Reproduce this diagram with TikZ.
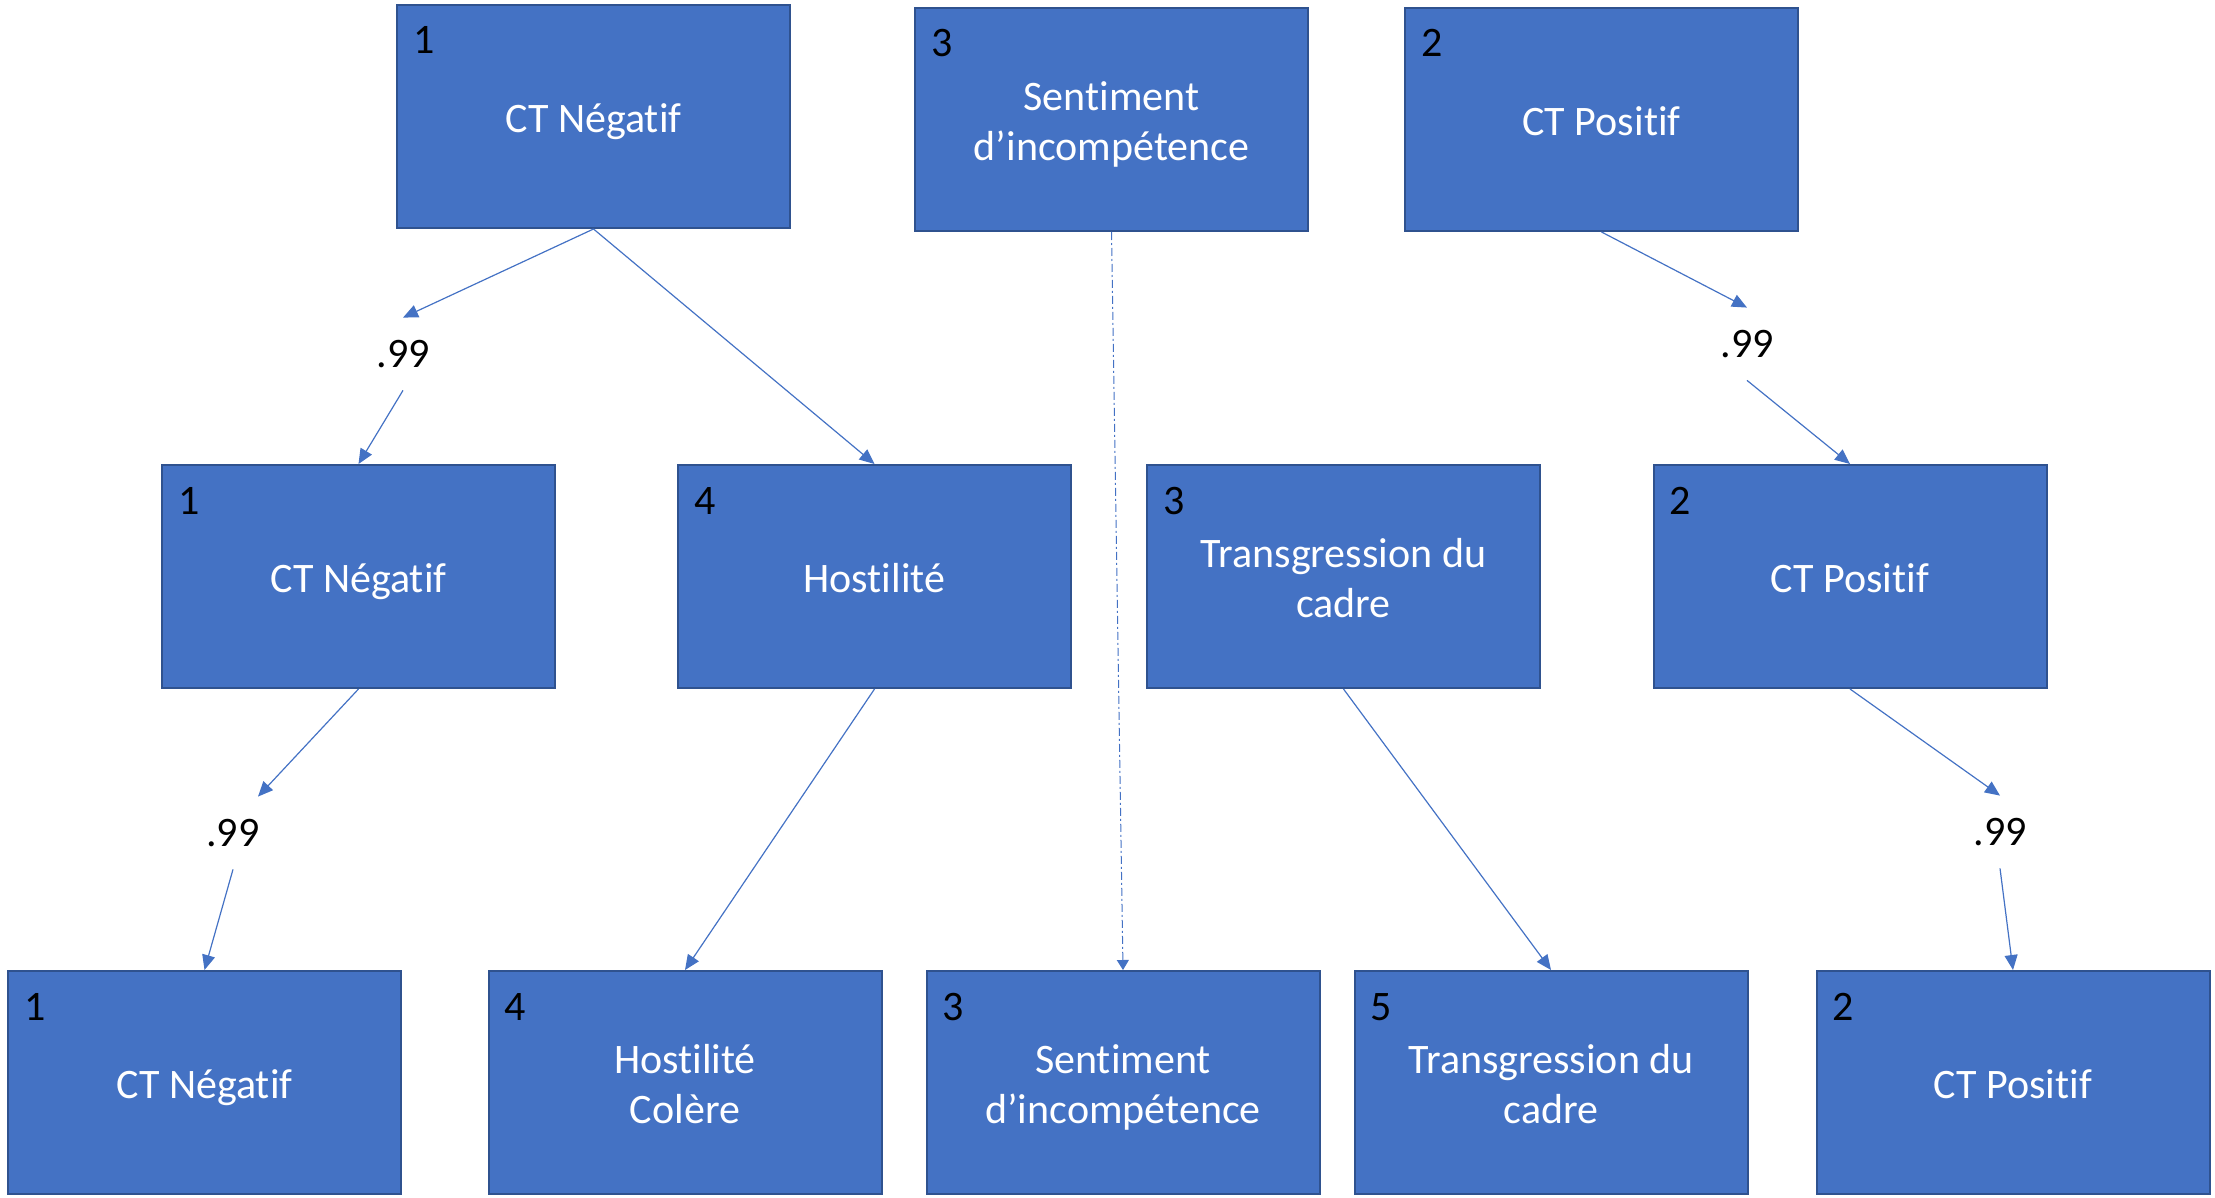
\documentclass[tikz,border=0pt]{standalone}
\usepackage{fontspec}
\setmainfont{Carlito}[Ligatures=NoCommon]
\usetikzlibrary{arrows.meta,calc}
\definecolor{boxfill}{HTML}{4472C4}
\definecolor{boxline}{HTML}{2F528F}
\newcommand{\topstrutx}{\rule{0pt}{23pt}}
\newcommand{\botstrutx}{\rule[-6.7pt]{0pt}{6.7pt}}
\begin{document}
\begin{tikzpicture}[x=0.5pt,y=-0.5pt,
  box/.style={draw=boxline,line width=1pt,fill=boxfill,minimum width=196.5pt,minimum height=111.5pt,inner sep=0pt,text=white,align=center,font=\fontsize{21}{25}\selectfont},
  num/.style={anchor=base west,inner sep=0pt,font=\fontsize{21}{25}\selectfont,text=black},
  lab/.style={inner sep=0pt,minimum height=36pt,font=\fontsize{21}{25}\selectfont,text=black},
  conn/.style={draw=boxfill,line width=0.6pt,-{Triangle[length=7.5pt,width=6.5pt]}},
  dotconn/.style={draw=boxfill,line width=0.5pt,dash pattern=on 4pt off 1.5pt on 1pt off 1.5pt,-{Triangle[length=5pt,width=6pt]}}]
\useasboundingbox (0,0) rectangle (2215,1198);
% top row
\node[box] (T1) at (593.5,116.5) {\topstrutx CT Négatif\botstrutx};
\node[box] (T3) at (1111.5,119.5) {\topstrutx Sentiment\\d’incompétence\botstrutx};
\node[box] (T2) at (1601.5,119.5) {\topstrutx CT Positif\botstrutx};
% middle row
\node[box] (M1) at (358.5,576.5) {\topstrutx CT Négatif\botstrutx};
\node[box] (M4) at (874.5,576.5) {\topstrutx Hostilité\botstrutx};
\node[box] (M3) at (1343.5,576.5) {\topstrutx Transgression du\\cadre\botstrutx};
\node[box] (M2) at (1850,576.5) {\topstrutx CT Positif\botstrutx};
% bottom row
\node[box] (B1) at (204.5,1082.5) {\topstrutx CT Négatif\botstrutx};
\node[box] (B4) at (685,1082.5) {\topstrutx Hostilité\\Colère\botstrutx};
\node[box] (B3) at (1123,1082.5) {\topstrutx Sentiment\\d’incompétence\botstrutx};
\node[box] (B5) at (1551,1082.5) {\topstrutx Transgression du\\cadre\botstrutx};
\node[box] (B2) at (2013,1082.5) {\topstrutx CT Positif\botstrutx};
% numbers
\node[num] (nT1) at ($(T1.north west)+(17,50)$) {1};
\node[num] (nT3) at ($(T3.north west)+(17,50)$) {3};
\node[num] (nT2) at ($(T2.north west)+(17,50)$) {2};
\node[num] (nM1) at ($(M1.north west)+(17,50)$) {1};
\node[num] (nM4) at ($(M4.north west)+(17,50)$) {4};
\node[num] (nM3) at ($(M3.north west)+(17,50)$) {3};
\node[num] (nM2) at ($(M2.north west)+(17,50)$) {2};
\node[num] (nB1) at ($(B1.north west)+(17,50)$) {1};
\node[num] (nB4) at ($(B4.north west)+(17,50)$) {4};
\node[num] (nB3) at ($(B3.north west)+(17,50)$) {3};
\node[num] (nB5) at ($(B5.north west)+(17,50)$) {5};
\node[num] (nB2) at ($(B2.north west)+(17,50)$) {2};
% labels
\node[lab] (l1) at (403,354) {.99};
\node[lab] (l2) at (1747,344) {.99};
\node[lab] (l3) at (233,833) {.99};
\node[lab] (l4) at (2000,832) {.99};
% connectors
\draw[conn] (T1.south) -- (l1.north);
\draw[conn] (l1.south) -- (M1.north);
\draw[conn] (T1.south) -- (M4.north);
\draw[dotconn] (T3.south) -- (B3.north);
\draw[conn] (T2.south) -- (l2.north);
\draw[conn] (l2.south) -- (M2.north);
\draw[conn] (M1.south) -- ([xshift=12.5pt]l3.north);
\draw[conn] (l3.south) -- (B1.north);
\draw[conn] (M4.south) -- (B4.north);
\draw[conn] (M3.south) -- (B5.north);
\draw[conn] (M2.south) -- (l4.north);
\draw[conn] (l4.south) -- (B2.north);
\end{tikzpicture}
\end{document}
